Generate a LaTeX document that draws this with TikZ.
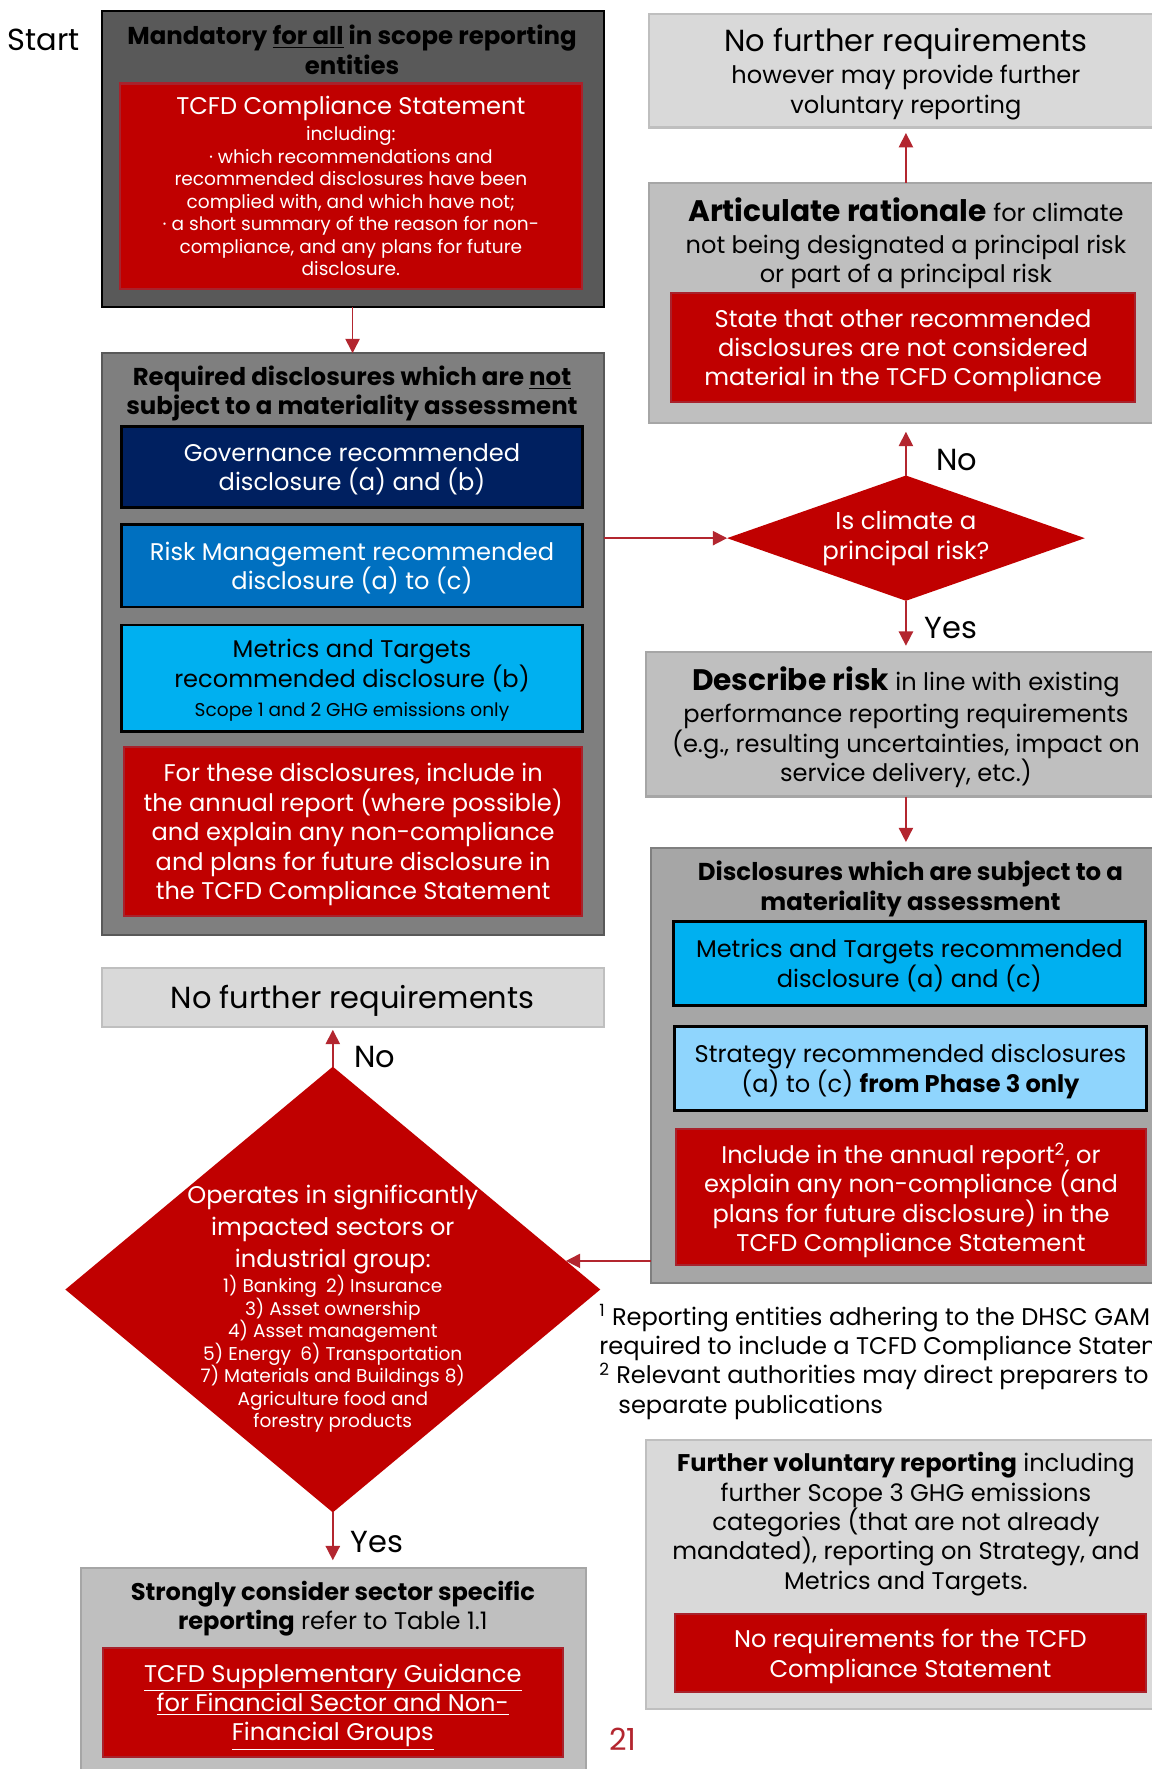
\documentclass[tikz,border=0pt]{standalone}
\usepackage{fontspec}
\setmainfont{Poppins}
\usepackage{tikz}
\usetikzlibrary{positioning,arrows.meta,shapes.geometric}

\definecolor{tred}{HTML}{C00000}
\definecolor{tredline}{HTML}{A8222C}
\definecolor{arrred}{HTML}{B3262F}
\definecolor{navy}{HTML}{002060}
\definecolor{midblue}{HTML}{0070C0}
\definecolor{cyanbl}{HTML}{00B0F0}
\definecolor{paleblue}{HTML}{8FD5FD}
\definecolor{gDark}{HTML}{595959}
\definecolor{gMid}{HTML}{7F7F7F}
\definecolor{gSoft}{HTML}{A6A6A6}
\definecolor{gLight}{HTML}{BFBFBF}
\definecolor{gPale}{HTML}{D9D9D9}

\newcommand{\fbody}{\fontsize{15.2}{18.5}\selectfont}
\newcommand{\fsmall}{\fontsize{11.7}{14.2}\selectfont}
\newcommand{\ftitle}{\fontsize{15.4}{18.5}\selectfont}
\newcommand{\flarge}{\fontsize{19.2}{21}\selectfont}
\newcommand{\fbig}{\fontsize{18.7}{21}\selectfont}
\newcommand{\fdia}{\fontsize{15.4}{19}\selectfont}

\begin{document}
\begin{tikzpicture}[x=0.025cm, y=-0.025cm,
  sz/.style 2 args={minimum width=#1*0.025cm, minimum height=#2*0.025cm},
  frame/.style={line width=1.3pt, inner sep=0pt, outer sep=0pt},
  greybox/.style={frame, align=center, font=\fbody, text depth=0pt},
  redbox/.style={frame, fill=tred, draw=tredline, text=white, align=center, font=\fbody, text depth=0pt},
  bluebox/.style={frame, draw=black, line width=1.8pt, align=center, font=\fbody, text depth=0pt},
  hd/.style={font=\ftitle\bfseries, align=center, inner sep=0pt},
  txt/.style={font=\fbody, align=center, inner sep=0pt},
  dia/.style={diamond, fill=tred, inner sep=0pt, outer sep=0pt, text=white, align=center},
  arr/.style={-{Triangle[length=9pt,width=9pt]}, line width=1pt, arrred},
  lbl/.style={font=\flarge, inner sep=0pt},
]
\useasboundingbox (0,0) rectangle (1021,1568);
\clip (0,0) rectangle (1021,1568);

% start: mandatory statement
\node[lbl] (start) at (39,35) {Start};
\node[frame, fill=gDark, draw=black, sz={445}{262}] (mand) at (312.5,141) {};
\node[hd] (mandhd) at (312,44) {Mandatory \underline{for all} in scope reporting\\entities};
\node[redbox, font=\fsmall, sz={410}{182}] (tcfdcs) at (311,165) {{\fbody TCFD Compliance Statement}\\[2pt]
  including:\\
  · which recommendations and\\
  recommended disclosures have been\\
  complied with, and which have not;\\
  · a short summary of the reason for non-\\
  compliance, and any plans for future\\
  disclosure.};

% disclosures without materiality assessment
\node[frame, fill=gMid, draw=gDark, sz={445}{516}] (req) at (312.5,571) {};
\node[hd] (reqhd) at (312,349) {Required disclosures which are \underline{not}\\subject to a materiality assessment};
\node[bluebox, fill=navy, text=white, sz={408}{72}] (gov) at (312,414) {Governance recommended\\disclosure (a) and (b)};
\node[bluebox, fill=midblue, text=white, sz={408}{73}] (riskm) at (312,501.5) {Risk Management recommended\\disclosure (a) to (c)};
\node[bluebox, fill=cyanbl, sz={408}{94}] (mtb) at (312,601) {Metrics and Targets\\recommended disclosure (b)\\{\fsmall Scope 1 and 2 GHG emissions only}};
\node[redbox, sz={406}{150}] (reqred) at (313,737) {For these disclosures, include in\\the annual report (where possible)\\and explain any non-compliance\\and plans for future disclosure in\\the TCFD Compliance Statement};

% principal risk question
\node[dia, font=\fdia, aspect=2.86, minimum width=7.925cm, minimum height=2.775cm] (q1) at (803,477) {Is climate a\\principal risk?};

\node[greybox, fill=gPale, draw=gLight, sz={456}{101}] (nofr1) at (803,62.5) {{\flarge No further requirements}\\[2pt]however may provide further\\voluntary reporting};

\node[frame, fill=gLight, draw=gSoft, sz={456}{213}] (art) at (803,268.5) {};
\node[txt] (arthd) at (803,216) {{\fbig\bfseries Articulate rationale} for climate\\[1.5pt]not being designated a principal risk\\or part of a principal risk};
\node[redbox, sz={411}{96}] (artred) at (800.5,308) {State that other recommended\\disclosures are not considered\\material in the TCFD Compliance};

\node[greybox, fill=gLight, draw=gSoft, sz={460}{128}] (desc) at (803,642) {{\fbig\bfseries Describe risk} in line with existing\\[1.5pt]performance reporting requirements\\(e.g., resulting uncertainties, impact on\\service delivery, etc.)};

% disclosures with materiality assessment
\node[frame, fill=gSoft, draw=gMid, sz={460}{385}] (disc) at (807,944.5) {};
\node[hd] (dischd) at (807,788) {Disclosures which are subject to a\\materiality assessment};
\node[bluebox, fill=cyanbl, sz={418}{74}] (mtac) at (806,854) {Metrics and Targets recommended\\disclosure (a) and (c)};
\node[bluebox, fill=paleblue, sz={418}{74}] (strat) at (807,947) {Strategy recommended disclosures\\(a) to (c) \textbf{from Phase 3 only}};
\node[redbox, sz={417}{120}] (discred) at (807.5,1061) {Include in the annual report\textsuperscript{2}, or\\explain any non-compliance (and\\plans for future disclosure) in the\\TCFD Compliance Statement};

% sector question
\node[greybox, fill=gPale, draw=gLight, font=\flarge, sz={445}{52}] (nofr2) at (312.5,884) {No further requirements};
\node[dia, minimum width=11.85cm, minimum height=9.875cm] (q2) at (295,1143) {};
\node[txt, font=\fsmall, text=white] (q2txt) at (295,1160) {{\fbody Operates in significantly}\\[3.6pt]
  {\fbody impacted sectors or}\\[3.6pt]
  {\fbody industrial group:}\\
  1) Banking\enspace 2) Insurance\\
  3) Asset ownership\\
  4) Asset management\\
  5) Energy\enspace 6) Transportation\\
  7) Materials and Buildings 8)\\
  Agriculture food and\\
  forestry products};

\node[frame, fill=gLight, draw=gSoft, sz={447}{210}] (strong) at (295.5,1495) {};
\node[txt] (stronghd) at (295,1426) {\textbf{Strongly consider sector specific}\\\textbf{reporting} refer to Table 1.1};
\node[redbox, sz={408}{96}] (strongred) at (295,1509) {\underline{TCFD Supplementary Guidance}\\\underline{for Financial Sector and Non-}\\\underline{Financial Groups}};

% footnotes and voluntary reporting
\node[txt, anchor=north west, align=left] (fnotes) at (531,1156) {\textsuperscript{1} Reporting entities adhering to the DHSC GAM\\required to include a TCFD Compliance Statement\\\textsuperscript{2} Relevant authorities may direct preparers to\\\hspace*{12pt}separate publications};

\node[frame, fill=gPale, draw=gLight, sz={460}{239}] (furth) at (803,1395.5) {};
\node[txt] (furthhd) at (803,1351) {\textbf{Further voluntary reporting} including\\further Scope 3 GHG emissions\\categories (that are not already\\mandated), reporting on Strategy, and\\Metrics and Targets.};
\node[redbox, sz={418}{69}] (furthred) at (807,1465.5) {No requirements for the TCFD\\Compliance Statement};

\node[lbl, text=arrred] (pgno) at (552,1542) {21};

% connectors
\draw[arr] (mand.south) -- (req.north);
\draw[arr] (req.east |- q1.west) -- (q1.west);
\draw[arr, shorten >=5.5pt] (q1.north) -- (art.south);
\draw[arr, shorten >=3.5pt] (art.north) -- (nofr1.south);
\draw[arr, shorten >=4pt] (q1.south) -- (desc.north);
\draw[arr, shorten >=4pt] (desc.south) -- (desc.south |- disc.north);
\draw[arr] (disc.west |- q2.7) -- (q2.7);
\draw[arr, shorten >=2pt] (q2.north) -- (q2.north |- nofr2.south);
\draw[arr, shorten >=5pt] (q2.south) -- (q2.south |- strong.north);
\node[lbl] (no1) at (848,408) {No};
\node[lbl] (yes1) at (843,557) {Yes};
\node[lbl] (no2) at (332,937) {No};
\node[lbl] (yes2) at (334,1367) {Yes};
\end{tikzpicture}
\end{document}
